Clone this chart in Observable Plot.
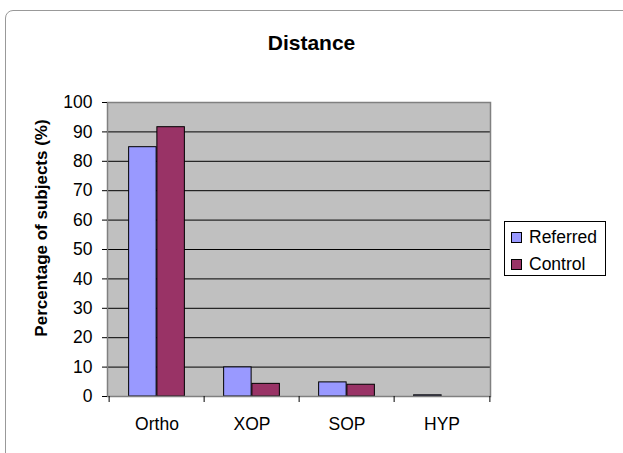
<!DOCTYPE html>
<html>
<head>
<meta charset="utf-8">
<script src="https://cdn.jsdelivr.net/npm/d3@7"></script>
<script src="https://cdn.jsdelivr.net/npm/@observablehq/plot@0.6"></script>
<style>
  html, body { margin: 0; padding: 0; background: #fff; }
  body { width: 623px; height: 453px; overflow: hidden; position: relative; font-family: "Liberation Sans", Arial, sans-serif; }
  #frame { position: absolute; left: 5px; top: 10px; width: 700px; height: 500px; border: 1.5px solid #999; border-radius: 8px 0 0 0; box-sizing: border-box; }
  #title { position: absolute; left: 0; width: 623px; top: 31px; line-height: 24px; text-align: center; font-weight: bold; font-size: 21px; color: #000; }
  #ylabel { position: absolute; left: 42px; top: 228px; transform: translate(-50%, -50%) rotate(-90deg); white-space: nowrap; font-weight: bold; font-size: 17px; color: #000; }
  #chart { position: absolute; left: 0; top: 0; }
  #legend { position: absolute; left: 504px; top: 221px; width: 102px; height: 55px; border: 1px solid #000; box-sizing: border-box; background: #fff; font-size: 17.5px; color: #000; }
  .item { position: absolute; left: 6px; display: flex; align-items: center; line-height: 20px; }
  .sw { width: 9px; height: 9px; border: 1px solid #000; margin-right: 7px; }
</style>
</head>
<body>
<div id="frame"></div>
<div id="title">Distance</div>
<div id="ylabel">Percentage of subjects (%)</div>
<div id="chart"></div>
<div id="legend"></div>
<script>
const categories = ["Ortho", "XOP", "SOP", "HYP"];
const seriesNames = ["Referred", "Control"];
const referred = [84.8, 9.9, 4.8, 0.4];
const control = [91.6, 4.3, 4.0, 0];
const yTicks = [0, 10, 20, 30, 40, 50, 60, 70, 80, 90, 100];
const colors = ["#9999FF", "#993366"];

const refData = categories.map((c, i) => ({category: c, value: referred[i]}));
const conData = categories.map((c, i) => ({category: c, value: control[i]}));

const W = 623, H = 453;
const mL = 107, mR = 133, mT = 102, mB = 57;
const band = (W - mL - mR) / categories.length;
const outer = band * 0.205, barW = band * 0.295;

const plot = Plot.plot({
  width: W, height: H,
  marginLeft: mL, marginRight: mR, marginTop: mT, marginBottom: mB,
  style: {fontFamily: "Liberation Sans, Arial, sans-serif", fontSize: "17.5px", color: "#000", background: "transparent"},
  x: {domain: categories, padding: 0, label: null},
  y: {domain: [0, 100], label: null},
  marks: [
    Plot.frame({fill: "#C0C0C0"}),
    Plot.gridY(yTicks, {stroke: "#000", strokeOpacity: 1, strokeWidth: 1}),
    Plot.barY(refData, {x: "category", y: "value", fill: colors[0], stroke: "#000", strokeWidth: 1,
      insetLeft: outer, insetRight: band - outer - barW}),
    Plot.barY(conData, {x: "category", y: "value", fill: colors[1], stroke: "#000", strokeWidth: 1,
      insetLeft: outer + barW, insetRight: outer}),
    Plot.frame({stroke: "#808080", strokeWidth: 1.5}),
    Plot.axisY({ticks: yTicks, tickSize: 5, tickPadding: 10, stroke: "#000", fontSize: 17.5, label: null}),
    Plot.axisX({tickSize: 0, tickPadding: 21, fontSize: 17.5, label: null}),
    Plot.ruleX(categories, {x: d => d, y1: 0, y2: 0, dx: -band / 2, insetBottom: -6, stroke: "#000"}),
    Plot.ruleX(categories.slice(-1), {x: d => d, y1: 0, y2: 0, dx: band / 2, insetBottom: -6, stroke: "#000"})
  ]
});
document.getElementById("chart").appendChild(plot);

const legend = document.getElementById("legend");
seriesNames.forEach((name, i) => {
  const it = document.createElement("div");
  it.className = "item";
  it.style.top = (5 + i * 27) + "px";
  it.innerHTML = `<div class="sw" style="background:${colors[i]}"></div><span>${name}</span>`;
  legend.appendChild(it);
});
</script>
</body>
</html>
